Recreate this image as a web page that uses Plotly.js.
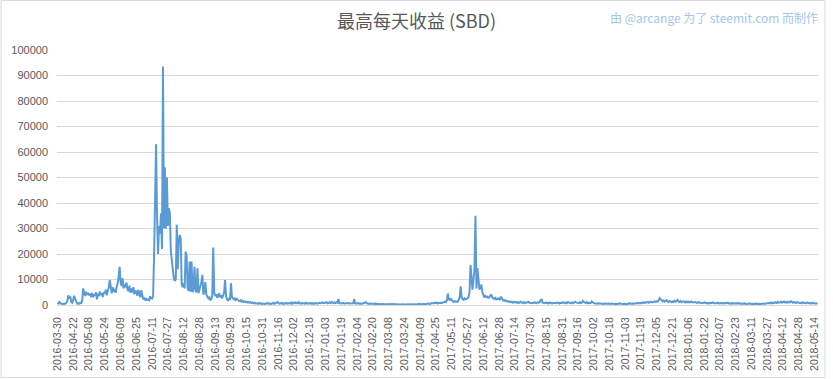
<!DOCTYPE html>
<html>
<head>
<meta charset="utf-8">
<script src="https://cdn.plot.ly/plotly-3.0.1.min.js"></script>
<style>
  html, body { margin: 0; padding: 0; background: #ffffff; }
  #chart { width: 833px; height: 379px; }
</style>
</head>
<body>
<div id="chart"></div>
<script>
// Chart title and credit text
var chartTitle = '最高每天收益 (SBD)';
var creditText = '由 @arcange 为了 steemit.com 而制作';

// First categories (the source skips some early days), then daily from 2016-04-22
var firstDates = ['2016-03-30','2016-04-07','2016-04-08','2016-04-09','2016-04-10','2016-04-11',
  '2016-04-12','2016-04-13','2016-04-14','2016-04-15','2016-04-16','2016-04-17','2016-04-18',
  '2016-04-19','2016-04-20','2016-04-21'];
var dailyStart = '2016-04-22';

// Highest daily payout (SBD), one value per category
var maxPayout = [
  300, 800, 1200, 600, 500, 700, 400, 600, 500, 900, 1500, 3800, 2500, 3400, 1200, 900,
  2800, 3600, 2200, 1000, 600, 700, 500, 900, 700, 1400, 6500, 5000, 3500, 5200, 4000, 4800,
  3800, 4500, 3200, 4700, 3000, 4200, 3600, 5000, 2200, 4400, 3500, 5300, 3900, 4600, 3100, 5000,
  4600, 6000, 3800, 5500, 6800, 9800, 6000, 4600, 7000, 5200, 6300, 4800, 7200, 8500, 11000, 15000,
  9000, 7500, 10500, 6500, 8000, 7000, 8800, 6000, 5500, 7600, 4800, 6500, 5000, 7000, 4200, 5600,
  5200, 3600, 6000, 4000, 3000, 5800, 3200, 2200, 2600, 1800, 2400, 2000, 2200, 1900, 3400, 2600,
  2500, 3500, 20000, 45000, 63000, 35000, 20000, 31000, 28000, 36000, 22000, 93500, 30000, 54000, 30000, 50000,
  31000, 38000, 36000, 21000, 17500, 12500, 10500, 9500, 10000, 31500, 14000, 25000, 27500, 26000, 8000, 7000,
  8500, 6500, 21000, 19000, 6500, 5500, 17000, 5200, 17000, 5000, 6500, 15000, 5500, 5000, 14400, 4600,
  6000, 7800, 9000, 11800, 4000, 5500, 9000, 4000, 3200, 2600, 3000, 2000, 2200, 3500, 22500, 5000,
  3500, 4200, 2800, 3600, 4600, 3000, 3800, 2600, 3400, 4800, 9800, 3500, 2200, 1800, 2400, 2000,
  8600, 3000, 2600, 2200, 2800, 2000, 2400, 1800, 1600, 1500, 1900, 1300, 1600, 1200, 1400, 1100,
  1300, 1000, 1200, 900, 1100, 800, 1000, 700, 900, 600, 800, 700, 500, 800, 600, 400,
  600, 500, 700, 400, 600, 800, 500, 700, 600, 400, 700, 900, 500, 600, 800, 1200,
  700, 500, 600, 800, 500, 700, 400, 600, 900, 500, 700, 600, 800, 500, 1000, 600,
  800, 1000, 700, 900, 600, 1100, 700, 500, 800, 600, 700, 500, 900, 600, 700, 500,
  600, 800, 500, 700, 400, 600, 800, 500, 700, 600, 900, 700, 800, 1000, 700, 900,
  800, 1100, 700, 900, 1000, 800, 1200, 900, 700, 1000, 800, 1100, 900, 2400, 800, 600,
  700, 500, 800, 600, 700, 500, 600, 800, 600, 700, 500, 900, 700, 2400, 700, 500,
  600, 800, 500, 700, 600, 500, 700, 600, 800, 1100, 600, 500, 400, 600, 500, 400,
  500, 400, 600, 300, 500, 400, 300, 500, 300, 400, 200, 400, 300, 200, 400, 300,
  200, 400, 300, 200, 300, 400, 200, 300, 200, 400, 300, 200, 300, 200, 400, 300,
  200, 300, 400, 200, 300, 200, 400, 300, 200, 300, 400, 300, 200, 400, 300, 500,
  300, 400, 300, 500, 400, 300, 500, 400, 600, 500, 400, 700, 600, 800, 700, 900,
  700, 900, 600, 800, 700, 900, 800, 1000, 900, 1300, 1100, 1800, 4500, 2200, 2000, 2600,
  1800, 1300, 1200, 1500, 1300, 1400, 1200, 2000, 3000, 7300, 3000, 2300, 2000, 2600, 2200, 2400,
  2600, 3200, 5000, 15700, 9000, 6000, 10000, 14000, 35000, 6500, 14500, 9000, 6000, 7000, 8000, 5000,
  3500, 3000, 3600, 3200, 3300, 2800, 3000, 3400, 4200, 3000, 2600, 2400, 2800, 2200, 2500, 2300,
  2600, 2000, 3300, 2200, 1800, 2000, 1600, 1800, 1400, 1500, 1200, 1400, 1100, 1300, 900, 1200,
  1000, 1200, 900, 1100, 800, 1000, 1300, 900, 800, 1100, 700, 900, 1000, 800, 1200, 900,
  800, 1000, 700, 900, 1100, 800, 700, 1000, 900, 1200, 1600, 2300, 1000, 800, 700, 900,
  700, 900, 600, 800, 1000, 700, 600, 900, 800, 600, 700, 1000, 800, 600, 900, 700,
  800, 1100, 900, 700, 1000, 800, 1200, 900, 700, 800, 1000, 700, 900, 1300, 1000, 800,
  900, 700, 1100, 800, 1000, 1600, 1200, 900, 800, 1100, 700, 900, 1000, 800, 1400, 1000,
  800, 700, 600, 800, 500, 700, 600, 500, 700, 600, 400, 600, 500, 700, 500, 600,
  500, 400, 600, 500, 700, 400, 500, 600, 400, 500, 700, 500, 400, 600, 500, 400,
  500, 600, 400, 500, 700, 500, 600, 400, 600, 500, 700, 600, 800, 700, 900, 800,
  700, 900, 1000, 800, 1100, 900, 1000, 1200, 900, 1100, 1300, 1000, 1200, 1100, 1400, 1200,
  1500, 1300, 1800, 2700, 2200, 1600, 1400, 1800, 1300, 1500, 1900, 1400, 1200, 1600, 1300, 1100,
  1400, 1200, 1700, 1300, 1500, 2000, 1400, 1200, 1600, 1100, 1300, 1500, 1200, 1000, 1400, 1100,
  1300, 1000, 1200, 1400, 1000, 1100, 900, 1200, 1000, 800, 1100, 900, 1000, 800, 700, 900,
  800, 1000, 700, 900, 800, 600, 900, 700, 800, 1000, 700, 600, 800, 700, 900, 600,
  700, 900, 800, 600, 700, 1000, 800, 700, 900, 600, 800, 700, 500, 800, 600, 700,
  500, 700, 600, 800, 500, 600, 400, 600, 500, 700, 400, 500, 600, 400, 500, 600,
  400, 500, 300, 500, 400, 600, 400, 300, 500, 400, 500, 300, 400, 600, 500, 700,
  600, 800, 700, 900, 600, 1000, 800, 700, 1100, 900, 800, 1200, 900, 1000, 1300, 900,
  1100, 1400, 1000, 1200, 900, 1300, 1100, 1000, 1500, 1100, 900, 1200, 1000, 800, 1100, 900,
  1000, 800, 900, 700, 1000, 800, 900, 700, 800, 1000, 700, 900, 800, 600, 900, 700,
  800, 600, 700, 500
];

// Tick labels shown on the category axis
var tickLabels = ['2016-03-30','2016-04-22','2016-05-08','2016-05-24','2016-06-09','2016-06-25',
  '2016-07-11','2016-07-27','2016-08-12','2016-08-28','2016-09-13','2016-09-29','2016-10-15',
  '2016-10-31','2016-11-16','2016-12-02','2016-12-18','2017-01-03','2017-01-19','2017-02-04',
  '2017-02-20','2017-03-08','2017-03-24','2017-04-09','2017-04-25','2017-05-11','2017-05-27',
  '2017-06-12','2017-06-28','2017-07-14','2017-07-30','2017-08-15','2017-08-31','2017-09-16',
  '2017-10-02','2017-10-18','2017-11-03','2017-11-19','2017-12-05','2017-12-21','2018-01-06',
  '2018-01-22','2018-02-07','2018-02-23','2018-03-11','2018-03-27','2018-04-12','2018-04-28',
  '2018-05-14'];

var yTicks = [0,10000,20000,30000,40000,50000,60000,70000,80000,90000,100000];

// Build the date categories
var categories = firstDates.slice();
(function () {
  var p = dailyStart.split('-');
  var d = new Date(Date.UTC(+p[0], +p[1] - 1, +p[2]));
  while (categories.length < maxPayout.length) {
    categories.push(d.toISOString().slice(0, 10));
    d.setUTCDate(d.getUTCDate() + 1);
  }
})();

var L = 56.5, R = 818.5, T = 50, B = 305, W = 833, H = 379;
var pw = R - L, ph = B - T;

var trace = {
  type: 'scatter',
  mode: 'lines',
  x: categories,
  y: maxPayout,
  line: { color: '#5b9bd5', width: 2 },
  hoverinfo: 'x+y'
};

var layout = {
  width: W, height: H,
  margin: { l: L, r: W - R, t: T, b: H - B, pad: 0 },
  paper_bgcolor: '#ffffff',
  plot_bgcolor: '#ffffff',
  showlegend: false,
  title: {
    text: chartTitle,
    font: { family: 'Noto Sans CJK SC, Noto Sans, sans-serif', size: 18, color: '#595959' },
    x: 0.5, xref: 'container', xanchor: 'center',
    y: 1 - 22 / H, yref: 'container', yanchor: 'middle'
  },
  xaxis: {
    type: 'category',
    range: [-0.5, maxPayout.length - 0.5],
    tickmode: 'array',
    tickvals: tickLabels,
    ticktext: tickLabels,
    tickangle: -90,
    tickfont: { family: 'Liberation Sans, Arial, sans-serif', size: 10.5, color: '#595959' },
    showgrid: false,
    showline: true,
    linecolor: '#d9d9d9',
    linewidth: 1,
    ticks: '',
    ticklabelstandoff: 7,
    zeroline: false,
    fixedrange: true
  },
  yaxis: {
    range: [0, 100000],
    tickmode: 'array',
    tickvals: yTicks,
    ticktext: yTicks.map(String),
    tickfont: { family: 'Liberation Sans, Arial, sans-serif', size: 11, color: '#595959' },
    showgrid: true,
    gridcolor: '#d9d9d9',
    gridwidth: 1,
    zeroline: false,
    showline: false,
    ticks: '',
    ticklabelstandoff: 8,
    fixedrange: true
  },
  annotations: [{
    text: creditText,
    xref: 'paper', yref: 'paper',
    x: (821 - L) / pw, xanchor: 'right',
    y: (B - 17) / ph, yanchor: 'middle',
    showarrow: false,
    font: { family: 'Noto Sans CJK SC, Noto Sans, sans-serif', size: 12, color: '#a4c6e7' }
  }],
  shapes: [{
    type: 'rect', xref: 'paper', yref: 'paper',
    x0: (0.5 - L) / pw, x1: (825.5 - L) / pw,
    y0: (B - 377.5) / ph, y1: (B - 0.5) / ph,
    line: { color: '#d9d9d9', width: 1 },
    fillcolor: 'rgba(0,0,0,0)',
    layer: 'below'
  }]
};

Plotly.newPlot('chart', [trace], layout, { displayModeBar: false, staticPlot: true });
</script>
</body>
</html>
